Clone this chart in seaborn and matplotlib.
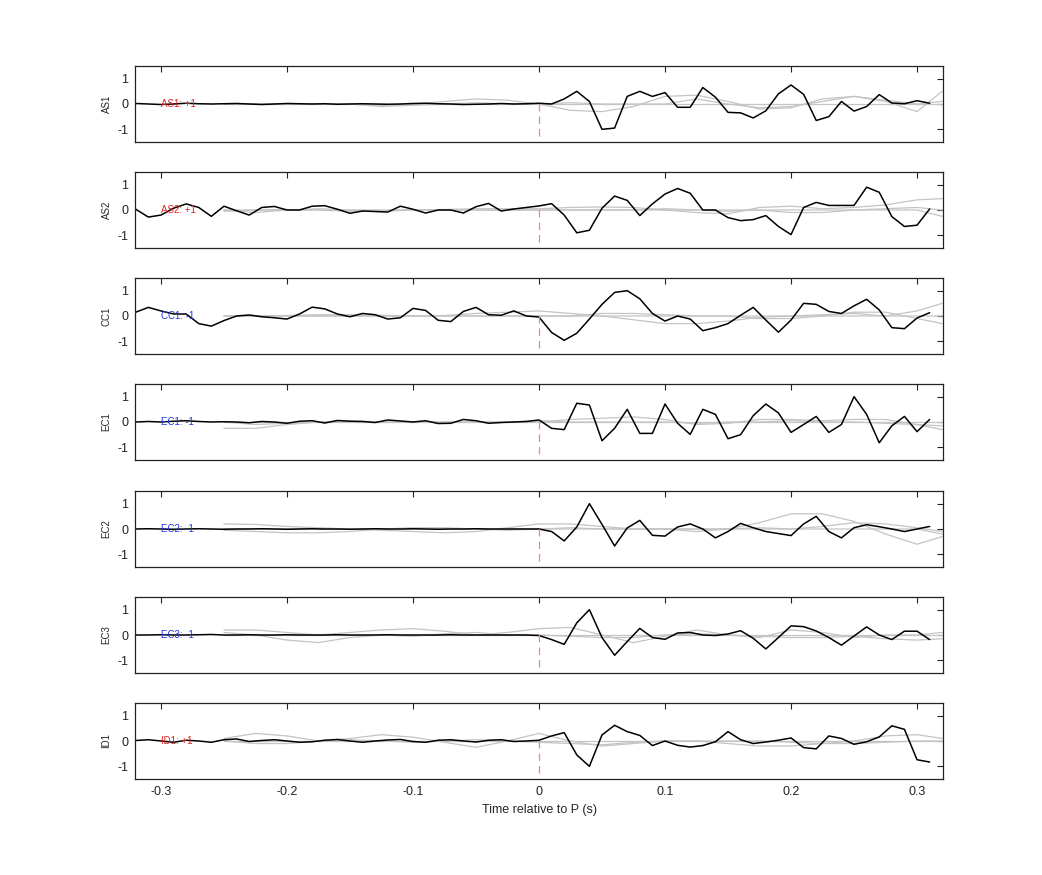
import matplotlib
matplotlib.use("Agg")
import matplotlib.pyplot as plt
import seaborn as sns
import numpy as np
import pandas as pd

sns.set_theme(style="white")
plt.rcParams['font.family'] = ['Liberation Sans', 'DejaVu Sans']

stations = ["AS1", "AS2", "CC1", "EC1", "EC2", "EC3", "ID1"]
polarity = ["AS1: +1", "AS2: +1", "CC1: -1", "EC1: -1", "EC2: -1", "EC3: -1", "ID1: +1"]
label_colors = ["#dd2222", "#dd2222", "#2233dd", "#2233dd", "#2233dd", "#2233dd", "#dd2222"]

time = [round(-0.32 + 0.01 * i, 2) for i in range(64)]

as1 = [0.02, 0.0, -0.02, 0.0, 0.03, 0.01, 0.0, 0.01, 0.02, 0.0, -0.02, 0.0, 0.02, 0.01, 0.0, 0.01, -0.01, 0.0,
       0.01, 0.0, -0.01, 0.0, 0.02, 0.03, 0.01, 0.0, -0.02, -0.01, 0.0, 0.02, 0.0, 0.01,
       0.03, 0.0, 0.2, 0.5, 0.1, -1.0, -0.95, 0.3, 0.5, 0.3, 0.45, -0.13, -0.13, 0.65, 0.27, -0.33,
       -0.35, -0.55, -0.27, 0.4, 0.75, 0.38, -0.65, -0.5, 0.1, -0.28, -0.1, 0.37, 0.04, 0.01, 0.13, 0.03]
as2 = [0.03, -0.28, -0.2, 0.07, 0.24, 0.1, -0.25, 0.15, -0.03, -0.2, 0.1, 0.14, 0.0, 0.0, 0.15, 0.17,
       0.03, -0.13, -0.04, -0.06, -0.08, 0.15, 0.03, -0.12, 0.0, 0.0, -0.12, 0.13, 0.26, -0.04, 0.04, 0.1,
       0.16, 0.25, -0.2, -0.9, -0.8, 0.07, 0.55, 0.38, -0.22, 0.24, 0.63, 0.85, 0.66, 0.0, 0.0, -0.3,
       -0.42, -0.38, -0.22, -0.65, -0.97, 0.1, 0.3, 0.18, 0.18, 0.18, 0.9, 0.7, -0.26, -0.65, -0.6, 0.04]
cc1 = [0.15, 0.34, 0.2, 0.08, 0.08, -0.3, -0.4, -0.18, 0.0, 0.04, -0.03, -0.07, -0.12, 0.08, 0.35, 0.28,
       0.08, -0.03, 0.1, 0.05, -0.12, -0.07, 0.3, 0.22, -0.17, -0.22, 0.18, 0.34, 0.05, 0.03, 0.2, 0.0,
       -0.04, -0.65, -0.96, -0.68, -0.12, 0.46, 0.93, 1.0, 0.68, 0.1, -0.2, 0.0, -0.12, -0.58, -0.46, -0.3,
       0.03, 0.34, -0.16, -0.64, -0.16, 0.5, 0.46, 0.18, 0.1, 0.4, 0.66, 0.24, -0.46, -0.5, -0.08, 0.13]
ec1 = [0.0, 0.02, 0.0, 0.03, 0.05, 0.02, 0.0, 0.01, 0.0, -0.03, 0.02, 0.0, -0.05, 0.03, 0.05, -0.04,
       0.06, 0.03, 0.02, -0.02, 0.08, 0.04, 0.0, 0.05, -0.06, -0.05, 0.1, 0.05, -0.05, -0.02, 0.0, 0.02,
       0.08, -0.25, -0.3, 0.74, 0.67, -0.74, -0.25, 0.5, -0.45, -0.45, 0.71, -0.05, -0.49, 0.5, 0.3, -0.66,
       -0.5, 0.25, 0.71, 0.36, -0.41, -0.1, 0.22, -0.41, -0.1, 1.0, 0.3, -0.82, -0.15, 0.22, -0.38, 0.1]
ec2 = [0.0, 0.01, 0.0, -0.01, 0.0, 0.01, 0.0, -0.01, 0.0, 0.0, 0.01, 0.0, -0.01, 0.0, 0.01, 0.0,
       0.0, -0.01, 0.0, 0.01, 0.0, 0.0, 0.01, 0.0, -0.01, 0.0, 0.0, 0.01, 0.0, 0.0, 0.0, 0.0,
       0.0, -0.1, -0.47, 0.08, 1.0, 0.18, -0.67, 0.04, 0.34, -0.25, -0.28, 0.08, 0.2, 0.0, -0.35, -0.1,
       0.22, 0.05, -0.1, -0.18, -0.26, 0.2, 0.5, -0.1, -0.35, 0.05, 0.17, 0.09, 0.0, -0.1, 0.0, 0.1]
ec3 = [0.0, 0.0, 0.01, 0.0, 0.0, 0.01, 0.02, 0.0, 0.0, 0.01, 0.0, 0.0, 0.01, 0.0, 0.0, 0.0,
       0.01, 0.0, 0.0, 0.0, 0.01, 0.0, 0.0, 0.0, 0.0, 0.01, 0.0, 0.0, 0.0, 0.0, 0.0, 0.0,
       -0.02, -0.18, -0.37, 0.48, 1.0, -0.1, -0.8, -0.26, 0.26, -0.1, -0.17, 0.08, 0.1, 0.0, -0.02, 0.04,
       0.17, -0.13, -0.55, -0.1, 0.36, 0.33, 0.16, -0.1, -0.4, -0.04, 0.32, 0.0, -0.18, 0.15, 0.15, -0.18]
id1 = [0.02, 0.05, 0.0, -0.05, 0.03, 0.0, -0.05, 0.05, 0.08, -0.02, 0.02, 0.05, 0.0, -0.05, -0.03, 0.03,
       0.06, 0.0, -0.05, 0.0, 0.04, 0.06, -0.02, -0.05, 0.03, 0.05, 0.0, -0.04, 0.03, 0.05, -0.02, 0.0,
       0.03, 0.2, 0.33, -0.55, -1.0, 0.24, 0.62, 0.37, 0.22, -0.18, 0.0, -0.17, -0.24, -0.18, -0.03, 0.37,
       0.05, -0.1, -0.04, 0.03, 0.12, -0.26, -0.31, 0.2, 0.1, -0.13, -0.03, 0.16, 0.6, 0.46, -0.74, -0.83]
traces = [as1, as2, cc1, ec1, ec2, ec3, id1]

# grey comparison traces, sampled at knot times
gtime = [-0.25, -0.225, -0.2, -0.175, -0.15, -0.125, -0.1, -0.075, -0.05, -0.025, 0.0, 0.025, 0.05, 0.075,
         0.1, 0.125, 0.15, 0.175, 0.2, 0.225, 0.25, 0.275, 0.3, 0.32]
grey = [
    [[0, 0, 0, 0, 0, -0.05, -0.02, 0.1, 0.2, 0.15, 0.0, -0.25, -0.3, -0.1, 0.3, 0.35, 0.1, -0.2, -0.15, 0.2, 0.3, 0.1, -0.3, 0.5],
     [0, 0, 0, 0, 0, 0, 0, 0, 0, 0, 0, 0, 0, 0, 0, 0, 0, 0, 0, 0, 0, 0, 0, 0],
     [0, 0, 0, 0, 0, -0.1, -0.05, 0.0, 0.05, 0.0, 0.0, 0.05, 0.0, 0.0, 0.0, 0.2, 0.0, -0.15, -0.1, 0.1, 0.3, 0.15, 0.0, 0.1]],
    [[-0.05, 0, 0.02, 0, -0.05, -0.03, 0, 0.02, 0.05, 0.05, 0.05, 0.1, 0.12, 0.1, 0.0, -0.1, -0.15, 0.1, 0.15, 0.05, 0.1, 0.2, 0.4, 0.45],
     [0, -0.1, 0, 0.05, 0, -0.05, 0, 0, 0, 0, 0, 0, 0, 0, 0.05, 0, -0.05, 0, -0.1, -0.1, 0, 0.05, 0.1, 0.0],
     [0, 0, 0, 0, 0, 0, 0, 0, 0, 0, 0, 0, 0, 0, 0, 0, 0, 0, 0, 0, 0, 0, 0, -0.25]],
    [[0, 0, 0.02, 0.05, 0.05, 0.03, 0, 0.02, 0.1, 0.15, 0.2, 0.1, 0.0, -0.15, -0.3, -0.3, -0.2, -0.05, 0.0, 0.05, 0.1, 0.0, 0.2, 0.5],
     [0, 0, 0, 0, 0, 0, 0, 0, 0, 0, 0, 0.0, 0.1, 0.1, 0.05, 0.0, 0.0, 0.0, 0.0, 0.0, 0.0, 0.0, 0.0, 0.0],
     [0, 0, 0, 0, 0, 0, 0, 0, 0, 0, 0, 0, 0, 0, 0, 0, 0, -0.1, -0.1, 0, 0.15, 0.15, -0.1, -0.3]],
    [[-0.25, -0.25, -0.1, 0, 0.05, 0, 0, 0, 0, 0, 0.0, 0.1, 0.15, 0.2, 0.1, -0.1, -0.05, 0.1, 0.1, 0.05, 0.1, 0.1, -0.1, -0.15],
     [0, -0.1, -0.05, 0, 0, 0, 0, 0, 0, 0, 0.05, 0.0, 0.0, 0.0, 0.0, -0.05, 0.0, 0.0, 0.05, 0.0, 0.0, -0.05, -0.1, -0.3],
     [0, 0, 0, 0, 0, 0, 0, 0, 0, 0, 0, 0, 0, 0, 0, 0, 0, 0, 0, 0, 0, 0, 0, 0]],
    [[0.2, 0.18, 0.1, 0.05, 0.0, -0.05, -0.1, -0.15, -0.1, 0.05, 0.2, 0.2, 0.1, 0.0, 0.0, 0.0, 0.0, 0.25, 0.6, 0.6, 0.3, -0.2, -0.6, -0.3],
     [-0.05, -0.1, -0.15, -0.15, -0.1, 0.0, 0.05, 0.05, 0.0, -0.05, 0.0, 0.05, 0.0, 0.0, 0.0, -0.1, 0.0, 0.05, 0.0, 0.1, 0.25, 0.2, 0.05, -0.1],
     [0, 0, 0, 0, 0, 0, 0, 0, 0, 0, 0, 0, 0, 0, 0, 0, 0, 0, 0, 0, 0, 0, 0, -0.2]],
    [[0.2, 0.2, 0.1, 0.0, 0.1, 0.2, 0.25, 0.15, 0.0, 0.1, 0.25, 0.3, 0.0, -0.3, -0.05, 0.2, 0.0, -0.1, 0.2, 0.1, -0.1, 0.0, 0.0, 0.1],
     [0.1, 0.0, -0.2, -0.3, -0.1, 0.0, -0.05, 0.05, 0.1, 0.0, 0.0, -0.05, -0.1, -0.1, 0.0, 0.05, 0.0, -0.05, -0.1, -0.1, -0.05, -0.15, -0.2, -0.15],
     [0, 0, 0, 0, 0, 0, 0, 0, 0, 0, 0, 0, 0, 0, 0, 0, 0, 0, 0, 0, 0, 0, 0, 0]],
    [[0.1, 0.3, 0.2, 0.0, 0.1, 0.25, 0.15, -0.05, -0.25, 0.0, 0.3, 0.0, -0.2, -0.1, 0.0, 0.0, -0.1, -0.2, -0.2, -0.1, 0.0, 0.2, 0.25, 0.1],
     [0.0, -0.1, -0.1, 0.0, 0.05, 0.0, -0.05, 0.0, 0.05, 0.0, -0.05, -0.1, -0.15, -0.05, 0.0, 0.0, 0.0, 0.0, -0.05, -0.1, -0.1, -0.05, 0.0, 0.0],
     [0, 0, 0, 0, 0, 0, 0, 0, 0, 0, 0, 0, 0, 0, 0, 0, 0, 0, 0, 0, 0, 0, 0, 0]],
]
xticks = [-0.3, -0.2, -0.1, 0, 0.1, 0.2, 0.3]
xticklabels = ["-0.3", "-0.2", "-0.1", "0", "0.1", "0.2", "0.3"]

fig = plt.figure(figsize=(10.42, 8.75), dpi=100)
W, H = 1042, 875
tops = [66, 172, 278, 384, 491, 597, 703]
ph = 76
for i, st in enumerate(stations):
    ax = fig.add_axes([135 / W, 1 - (tops[i] + ph) / H, 808 / W, ph / H])
    for g in grey[i]:
        sns.lineplot(x=gtime, y=g, ax=ax, color="#c4c4c4", lw=0.9, estimator=None)
    sns.lineplot(x=time, y=traces[i], ax=ax, color="black", lw=1.1, estimator=None)
    ax.plot([0, 0], [-1.25, 0.05], color="#e88888", lw=0.9, dashes=(6, 4))
    ax.text(-0.3, 0, polarity[i], color=label_colors[i], fontsize=7, va="center", ha="left")
    ax.set_xlim(-0.3206, 0.3206)
    ax.set_ylim(-1.5, 1.5)
    ax.set_yticks([-1, 0, 1])
    ax.set_yticklabels(["-1", "0", "1"], fontsize=9)
    ax.set_xticks(xticks)
    ax.set_ylabel(st, fontsize=7)
    ax.tick_params(direction="in", top=True, right=True, length=4, width=0.8, colors="#222222", pad=5)
    for s in ax.spines.values():
        s.set_color("#222222")
        s.set_linewidth(0.9)
    if i == len(stations) - 1:
        ax.set_xticklabels(xticklabels, fontsize=9)
        ax.set_xlabel("Time relative to P (s)", fontsize=9)
    else:
        ax.set_xticklabels([])

fig.savefig("out.png", dpi=100)
